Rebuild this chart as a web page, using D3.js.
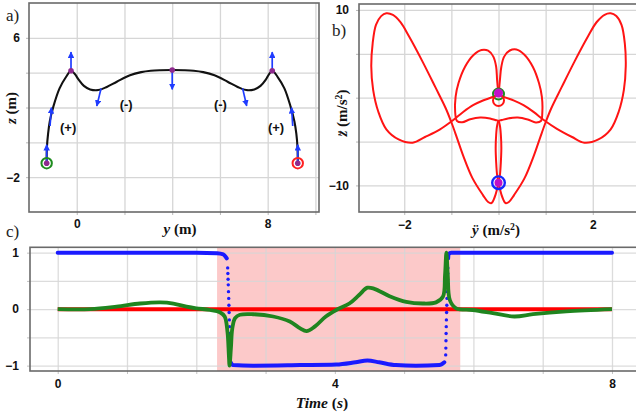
<!DOCTYPE html>
<html><head><meta charset="utf-8">
<script src="https://cdn.jsdelivr.net/npm/d3@7"></script>
<style>body{margin:0;background:#fff} svg{display:block}</style>
</head><body>
<svg id="chart" width="636" height="413"></svg>
<script>
// ---------- Panel a: trajectory (y, z) ----------
const trajectory = [[-1.26,-1.2],[-1.25,-0.3],[-1.2,0.5],[-1.13,1.2],[-0.98,2.05],[-0.72,3.1],[-0.45,3.75],[-0.24,4.11],[-0.08,3.92],[0.08,3.6],[0.3,3.24],[0.56,3.04],[0.9,3.0],[1.26,3.18],[1.68,3.48],[2.23,3.85],[2.7,4.03],[3.1,4.11],[3.5,4.14],[4.0,4.15],[4.5,4.14],[4.9,4.11],[5.3,4.03],[5.77,3.85],[6.32,3.48],[6.74,3.18],[7.1,3.0],[7.44,3.04],[7.7,3.24],[7.92,3.6],[8.06,3.92],[8.19,4.11],[8.42,3.75],[8.7,3.1],[8.96,2.05],[9.12,1.2],[9.2,0.5],[9.25,-0.3],[9.26,-1.2]];
const arrowBases = [[-1.26,-1.2],[-1.12,0.94],[-0.24,4.11],[1.02,3.10],[4.0,4.15],[6.95,3.10],[8.19,4.11],[9.05,0.94],[9.26,-1.2]];
const arrowTips  = [[-1.26,-0.14],[-1.06,1.99],[-0.24,5.18],[0.84,2.09],[4.0,3.04],[7.12,2.09],[8.19,5.18],[9.0,1.99],[9.26,-0.14]];
const keyPoints = [[-1.26,-1.2],[-0.24,4.11],[4.0,4.15],[8.19,4.11],[9.26,-1.2]];
const signLabels = ["(+)","(-)","(-)","(+)"];
const signPos = [[-0.36,0.88],[2.07,2.2],[6.02,2.2],[8.35,0.88]];
const aTicksX = [0,8], aTicksY = [-2,6];
const aGridX = [0,2,4,6,8,10], aGridY = [-2,0,2,4,6];

// ---------- Panel b: acceleration (ÿ, z̈) ----------
const accFirstHalf = [[0,0.45],[-0.11,0.11],[-0.33,-0.32],[-0.53,-0.83],[-0.75,-1.63],[-0.96,-2.54],[-1.24,-3.6],[-1.56,-4.48],[-1.82,-5.13],[-2.12,-4.75],[-2.38,-3.6],[-2.55,-1.6],[-2.66,0.9],[-2.7,3.6],[-2.67,6.2],[-2.6,8.3],[-2.49,9.3],[-2.38,9.62],[-2.24,9.43],[-2.08,8.6],[-1.9,7.0],[-1.62,4.2],[-1.34,1.2],[-1.12,-1.2],[-1.0,-2.8],[-0.88,-4.6],[-0.75,-6.6],[-0.55,-9.2],[-0.33,-11.1],[-0.22,-11.89],[-0.15,-12.01],[-0.08,-11.32],[-0.03,-10.41],[0,-9.69],[0.03,-8.81],[0.05,-7.33],[0.06,-5.74],[0.05,-4.25],[0.03,-3.2],[0,-2.66],[-0.07,-2.55],[-0.18,-2.37],[-0.39,-2.26],[-0.6,-2.46],[-0.77,-2.8],[-0.88,-2.66],[-0.92,-1.6],[-0.91,0.11],[-0.85,1.64],[-0.71,3.53],[-0.53,4.87],[-0.36,5.44],[-0.22,5.36],[-0.11,4.68],[-0.05,3.53],[-0.03,2.02],[-0.01,0.88],[0,0.45]];
const accSecondHalf = [[0,0.45],[0.01,0.88],[0.03,2.02],[0.06,3.53],[0.12,4.68],[0.24,5.38],[0.38,5.5],[0.55,4.9],[0.73,3.5],[0.86,1.64],[0.92,0.1],[0.93,-1.6],[0.9,-2.66],[0.79,-2.82],[0.62,-2.48],[0.41,-2.25],[0.2,-2.36],[0.07,-2.55],[0,-2.66],[-0.03,-3.2],[-0.05,-4.25],[-0.06,-5.74],[-0.05,-7.33],[-0.03,-8.81],[0,-9.69],[0.03,-10.41],[0.08,-11.32],[0.15,-12.01],[0.22,-11.89],[0.33,-11.1],[0.55,-9.2],[0.75,-6.6],[0.88,-4.6],[1.0,-2.8],[1.12,-1.2],[1.34,1.2],[1.62,4.2],[1.9,7.0],[2.08,8.6],[2.25,9.45],[2.38,9.62],[2.5,9.3],[2.61,8.3],[2.68,6.2],[2.7,3.6],[2.66,0.9],[2.55,-1.6],[2.38,-3.6],[2.12,-4.75],[1.82,-5.13],[1.56,-4.48],[1.24,-3.55],[0.96,-2.54],[0.75,-1.65],[0.53,-0.85],[0.33,-0.33],[0.11,0.1],[0,0.45]];
const accStart = [0,0.42], accEnd = [0,-0.32], accMid = [0,-9.69];
const bTicksX = [-2,2], bTicksY = [-10,10];
const bGridX = [-2,-1,0,1,2,3], bGridY = [-10,-5,0,5,10];

// ---------- Panel c: time series ----------
const shadedSpan = [2.3, 5.81];
const redSeries = [[0,0],[8,0]];
const greenSeries = [[0,0],[0.47,0],[0.85,0.045],[1.19,0.1],[1.48,0.12],[1.67,0.1],[1.86,0.045],[2.0,0.015],[2.2,-0.015],[2.34,-0.055],[2.41,-0.13],[2.45,-0.4],[2.47,-0.81],[2.48,-1.0],[2.5,-0.69],[2.52,-0.34],[2.56,-0.16],[2.63,-0.1],[2.82,-0.09],[3.11,-0.13],[3.35,-0.22],[3.5,-0.34],[3.59,-0.39],[3.71,-0.31],[3.87,-0.13],[4.02,-0.015],[4.21,0.1],[4.35,0.25],[4.47,0.38],[4.57,0.36],[4.79,0.23],[5.03,0.13],[5.27,0.1],[5.46,0.12],[5.56,0.22],[5.59,0.6],[5.61,1.0],[5.63,0.6],[5.66,0.16],[5.75,0.015],[5.99,-0.015],[6.28,-0.07],[6.59,-0.13],[6.86,-0.09],[7.34,-0.04],[8,0]];
const blueHighA = [[0,1],[1,1],[2,1],[2.3,0.99],[2.39,0.97],[2.44,0.9]];
const blueDrop = [[2.453,0.73],[2.456,0.63],[2.459,0.53],[2.462,0.43],[2.465,0.31],[2.468,0.19],[2.471,0.07],[2.474,-0.06],[2.477,-0.19],[2.48,-0.31],[2.482,-0.43],[2.484,-0.56],[2.486,-0.69],[2.488,-0.81]];
const blueLow = [[2.49,-0.93],[2.53,-0.99],[2.82,-1.0],[3.5,-0.99],[4.02,-0.98],[4.3,-0.94],[4.47,-0.91],[4.64,-0.94],[4.88,-0.99],[5.17,-1.0],[5.51,-0.99],[5.58,-0.94]];
const blueRise = [[5.6,-0.81],[5.602,-0.69],[5.604,-0.56],[5.606,-0.43],[5.608,-0.31],[5.61,-0.19],[5.613,-0.06],[5.616,0.07],[5.619,0.19],[5.622,0.31],[5.625,0.43],[5.627,0.53],[5.629,0.63],[5.631,0.73]];
const blueHighB = [[5.635,0.9],[5.64,0.97],[5.68,1.0],[8,1.0]];
const cTicksX = [0,4,8], cTicksY = [-1,0,1];
const cGridX = [0,1,2,3,4,5,6,7,8], cGridY = [-1,-0.5,0,0.5,1];

// ---------- drawing ----------
const svg = d3.select("#chart");
const GRID = "#d6d6d6", FRAME = "#6a6a6a";
const sansBold = "'Liberation Sans', Arial, sans-serif";
const serif = "'Liberation Serif', 'Times New Roman', serif";

function panel(x, y, gx, gy, tx, ty, padX, padY) {
  const [x0, x1] = x.range(), [y0, y1] = y.range();
  const g = svg.append("g");
  g.append("g").attr("transform", `translate(0,${y0})`)
    .call(d3.axisBottom(x).tickValues(gx).tickSize(-(y0 - y1)).tickFormat(""))
    .call(a => { a.select(".domain").remove(); a.selectAll("line").attr("stroke", GRID).attr("stroke-width", 1.3); });
  g.append("g").attr("transform", `translate(${x0},0)`)
    .call(d3.axisLeft(y).tickValues(gy).tickSize(-(x1 - x0)).tickFormat(""))
    .call(a => { a.select(".domain").remove(); a.selectAll("line").attr("stroke", GRID).attr("stroke-width", 1.3); });
  g.append("g").attr("transform", `translate(0,${y0})`)
    .call(d3.axisBottom(x).tickValues(gx).tickSize(3).tickFormat(""))
    .call(a => { a.select(".domain").remove(); a.selectAll("line").attr("stroke", "#b8b8b8"); });
  g.append("g").attr("transform", `translate(${x0},0)`)
    .call(d3.axisLeft(y).tickValues(gy).tickSize(3).tickFormat(""))
    .call(a => { a.select(".domain").remove(); a.selectAll("line").attr("stroke", "#b8b8b8"); });
  g.append("g").attr("transform", `translate(0,${y0})`)
    .call(d3.axisBottom(x).tickValues(tx).tickSize(0).tickPadding(padX).tickFormat(d3.format("d")))
    .call(a => { a.select(".domain").remove(); a.selectAll("text").attr("font-family", sansBold).attr("font-weight", "bold").attr("font-size", 12).attr("fill", "#111"); });
  g.append("g").attr("transform", `translate(${x0},0)`)
    .call(d3.axisLeft(y).tickValues(ty).tickSize(0).tickPadding(padY).tickFormat(d3.format("d")))
    .call(a => { a.select(".domain").remove(); a.selectAll("text").attr("font-family", sansBold).attr("font-weight", "bold").attr("font-size", 12).attr("fill", "#111"); });
  return g;
}
function frame(g, x, y) {
  const [x0, x1] = x.range(), [y0, y1] = y.range();
  g.append("rect").attr("x", x0).attr("y", y1).attr("width", x1 - x0).attr("height", y0 - y1)
    .attr("fill", "none").attr("stroke", FRAME).attr("stroke-width", 1.6);
}
const curve = d3.curveCatmullRom.alpha(0.5);

// ===== Panel a =====
const xa = d3.scaleLinear([-2, 10.15], [29, 319]);
const ya = d3.scaleLinear([-4, 8], [212, 3]);
const ga = panel(xa, ya, aGridX, aGridY, aTicksX, aTicksY, 7.5, 9);
frame(ga, xa, ya);
ga.append("path").datum(trajectory)
  .attr("d", d3.line().x(d => xa(d[0])).y(d => ya(d[1])).curve(curve))
  .attr("fill", "none").attr("stroke", "#111").attr("stroke-width", 2.1);
const defs = svg.append("defs");
defs.append("marker").attr("id", "ah").attr("viewBox", "0 0 10 10").attr("refX", 9).attr("refY", 5)
  .attr("markerWidth", 6.5).attr("markerHeight", 6.5).attr("markerUnits", "userSpaceOnUse").attr("orient", "auto")
  .append("path").attr("d", "M0,0 L10,5 L0,10 Z").attr("fill", "#1f3cff");
ga.selectAll("line.arrow").data(arrowBases).join("line").attr("class", "arrow")
  .attr("x1", d => xa(d[0])).attr("y1", d => ya(d[1]))
  .attr("x2", (d, i) => xa(arrowTips[i][0])).attr("y2", (d, i) => ya(arrowTips[i][1]))
  .attr("stroke", "#1f3cff").attr("stroke-width", 1.7).attr("marker-end", "url(#ah)");
ga.append("circle").attr("cx", xa(trajectory[0][0])).attr("cy", ya(trajectory[0][1])).attr("r", 5.2)
  .attr("fill", "none").attr("stroke", "#1e8c1e").attr("stroke-width", 2);
ga.append("circle").attr("cx", xa(trajectory[trajectory.length-1][0])).attr("cy", ya(trajectory[trajectory.length-1][1])).attr("r", 5.2)
  .attr("fill", "none").attr("stroke", "#ff2020").attr("stroke-width", 2);
ga.selectAll("circle.kp").data(keyPoints).join("circle").attr("class", "kp")
  .attr("cx", d => xa(d[0])).attr("cy", d => ya(d[1])).attr("r", 2.8).attr("fill", "#8e2a8e");
ga.selectAll("text.sign").data(signLabels).join("text").attr("class", "sign")
  .attr("x", (d, i) => xa(signPos[i][0])).attr("y", (d, i) => ya(signPos[i][1])).attr("dy", "0.35em")
  .attr("text-anchor", "middle").attr("font-family", sansBold).attr("font-weight", "bold").attr("font-size", 13)
  .attr("fill", "#111").text(d => d);

// ===== Panel b =====
const xb = d3.scaleLinear([-2.96, 3.0], [359, 639.9]);
const yb = d3.scaleLinear([-13.03, 10.68], [212, 4]);
const gb = panel(xb, yb, bGridX, bGridY, bTicksX, bTicksY, 8.5, 10);
frame(gb, xb, yb);
const lineB = d3.line().x(d => xb(d[0])).y(d => yb(d[1])).curve(curve);
gb.append("path").datum(accFirstHalf).attr("d", lineB).attr("fill", "none").attr("stroke", "#ff1414").attr("stroke-width", 2);
gb.append("path").datum(accSecondHalf).attr("d", lineB).attr("fill", "none").attr("stroke", "#ff1414").attr("stroke-width", 2);
gb.append("circle").attr("cx", xb(accStart[0])).attr("cy", yb(accStart[1])).attr("r", 5.5)
  .attr("fill", "none").attr("stroke", "#1e8c1e").attr("stroke-width", 2);
gb.append("circle").attr("cx", xb(accEnd[0])).attr("cy", yb(accEnd[1])).attr("r", 5.5)
  .attr("fill", "none").attr("stroke", "#ff1414").attr("stroke-width", 2);
gb.append("circle").attr("cx", xb(accStart[0])).attr("cy", yb(accStart[1]) - 1).attr("r", 4.5).attr("fill", "#c010c8");
gb.append("circle").attr("cx", xb(accMid[0])).attr("cy", yb(accMid[1])).attr("r", 6.3)
  .attr("fill", "none").attr("stroke", "#1428ff").attr("stroke-width", 2.4);
gb.append("circle").attr("cx", xb(accMid[0])).attr("cy", yb(accMid[1])).attr("r", 4).attr("fill", "#c010c8");

// ===== Panel c =====
const xc = d3.scaleLinear([-0.4, 8.4], [30, 639.7]);
const yc = d3.scaleLinear([-1.095, 1.095], [371, 247.3]);
const gc0 = svg.append("g");
gc0.append("rect").attr("x", xc(shadedSpan[0])).attr("y", yc(1.095)).attr("width", xc(shadedSpan[1]) - xc(shadedSpan[0]))
  .attr("height", yc(-1.095) - yc(1.095)).attr("fill", "#fcc9c9");
const gc = panel(xc, yc, cGridX, cGridY, cTicksX, cTicksY, 8.5, 11);
gc.selectAll("g line").attr("stroke-opacity", 0.85);
frame(gc, xc, yc);
const lineC = d3.line().x(d => xc(d[0])).y(d => yc(d[1]));
gc.append("path").datum(redSeries).attr("d", lineC).attr("fill", "none").attr("stroke", "#ff0000").attr("stroke-width", 4);
[blueHighA, blueLow, blueHighB].forEach(s =>
  gc.append("path").datum(s).attr("d", lineC.curve(d3.curveMonotoneX)).attr("fill", "none")
    .attr("stroke", "#1a1aff").attr("stroke-width", 4).attr("stroke-linecap", "round"));
gc.selectAll("circle.bd").data(blueDrop.concat(blueRise)).join("circle").attr("class", "bd")
  .attr("cx", d => xc(d[0])).attr("cy", d => yc(d[1])).attr("r", 1.7).attr("fill", "#1a1aff");
gc.append("path").datum(greenSeries).attr("d", d3.line().x(d => xc(d[0])).y(d => yc(d[1])).curve(curve))
  .attr("fill", "none").attr("stroke", "#1f851f").attr("stroke-width", 3.8).attr("stroke-linejoin", "round");

// ===== Text labels =====
function label(x, y, parts, size, rotate) {
  const t = svg.append("text").attr("font-family", serif).attr("font-size", size).attr("font-weight", "bold")
    .attr("text-anchor", "middle").attr("fill", "#111");
  if (rotate) t.attr("transform", `translate(${x},${y}) rotate(-90)`); else t.attr("x", x).attr("y", y);
  parts.forEach(p => {
    const s = t.append("tspan").text(p.t);
    if (p.i) s.attr("font-style", "italic");
    if (p.sup) s.attr("baseline-shift", "super").attr("font-size", size * 0.65);
  });
}
label(180, 234, [{t:"y", i:1}, {t:" (m)"}], 15);
label(16, 108, [{t:"z", i:1}, {t:" (m)"}], 15, true);
label(496, 235, [{t:"\u00ff", i:1}, {t:" (m/s"}, {t:"2", sup:1}, {t:")"}], 15);
label(347, 113, [{t:"z\u0308", i:1}, {t:" (m/s"}, {t:"2", sup:1}, {t:")"}], 15, true);
label(322, 408, [{t:"Time", i:1}, {t:" ("}, {t:"s", i:1}, {t:")"}], 15.5);
[["a)", 6, 21], ["b)", 332, 36], ["c)", 6, 237]].forEach(([s, x, y]) =>
  svg.append("text").attr("x", x).attr("y", y).attr("font-family", serif).attr("font-size", 17).attr("fill", "#222").text(s));
</script>
</body></html>
